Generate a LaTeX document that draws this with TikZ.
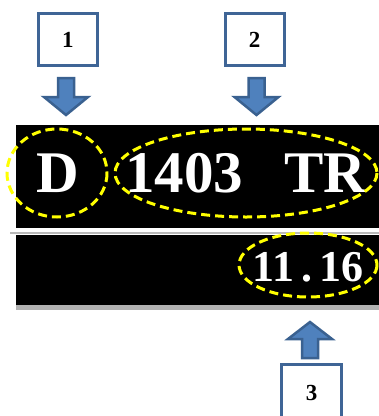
\documentclass[tikz,border=0pt]{standalone}
\usepackage{fontspec}
\setmainfont{Liberation Serif}
\definecolor{boxblue}{HTML}{3F6596}
\definecolor{arrfill}{HTML}{4F81BD}
\definecolor{arrline}{HTML}{3A6190}
\definecolor{hiyellow}{HTML}{FFFF00}
\begin{document}
\begin{tikzpicture}[x=1pt,y=-1pt,
  numbox/.style={draw=boxblue,line width=3pt,fill=white,minimum width=59pt,minimum height=52pt,font=\fontsize{23}{23}\selectfont\bfseries,inner sep=0pt},
  bigtxt/.style={text=white,font=\fontsize{59}{59}\selectfont\bfseries,inner sep=0pt},
  smalltxt/.style={text=white,font=\fontsize{44}{44}\selectfont\bfseries,inner sep=0pt},
  ring/.style={draw=hiyellow,line width=3pt,dash pattern=on 9pt off 5pt},
  blockarrow/.style={fill=arrfill,draw=arrline,line width=2.5pt,line join=miter}
]
\useasboundingbox (0,0) rectangle (379,416);
\clip (0,0) rectangle (379,416);
% bands
\fill[black] (16,125) rectangle (379,228);
\fill[gray!55] (10,231.5) rectangle (379,234);
\fill[black] (16,235) rectangle (379,305);
\fill[gray!60] (16,305) rectangle (379,309.5);
% numbered boxes
\node[numbox] (b1) at (68,39.5) {1};
\node[numbox] (b2) at (254.5,39.5) {2};
\draw[boxblue,line width=3pt] (281.5,420) -- (281.5,364.5) -- (341.5,364.5) -- (341.5,420);
\node[font=\fontsize{23}{23}\selectfont\bfseries,inner sep=0pt] (b3) at (311.5,393) {3};
% block arrows
\coordinate (a1) at (66,78);
\coordinate (a2) at (256.5,78);
\coordinate (a3) at (310,322);
\draw[blockarrow] ([xshift=-8pt]a1) -- ++(0,19) -- ++(-14,0) -- ++(22,18) -- ++(22,-18) -- ++(-14,0) -- ++(0,-19) -- cycle;
\draw[blockarrow] ([xshift=-8pt]a2) -- ++(0,19) -- ++(-14,0) -- ++(22,18) -- ++(22,-18) -- ++(-14,0) -- ++(0,-19) -- cycle;
\draw[blockarrow] (a3) -- ++(22,17) -- ++(-14,0) -- ++(0,19) -- ++(-16,0) -- ++(0,-19) -- ++(-14,0) -- cycle;
% texts
\node[bigtxt] (d) at (58,173) {D};
\node[bigtxt] (n) at (184,173) {1403};
\node[bigtxt] (tr) at (325,173) {TR};
\node[smalltxt] (t) at (308,267) {11\hspace{7pt}.\hspace{7pt}16};
% dashed ellipses
\draw[ring] (57,173) ellipse [x radius=50, y radius=44];
\draw[ring] (246,173) ellipse [x radius=131, y radius=44];
\draw[ring] (308,265) ellipse [x radius=69, y radius=32];
\end{tikzpicture}
\end{document}
